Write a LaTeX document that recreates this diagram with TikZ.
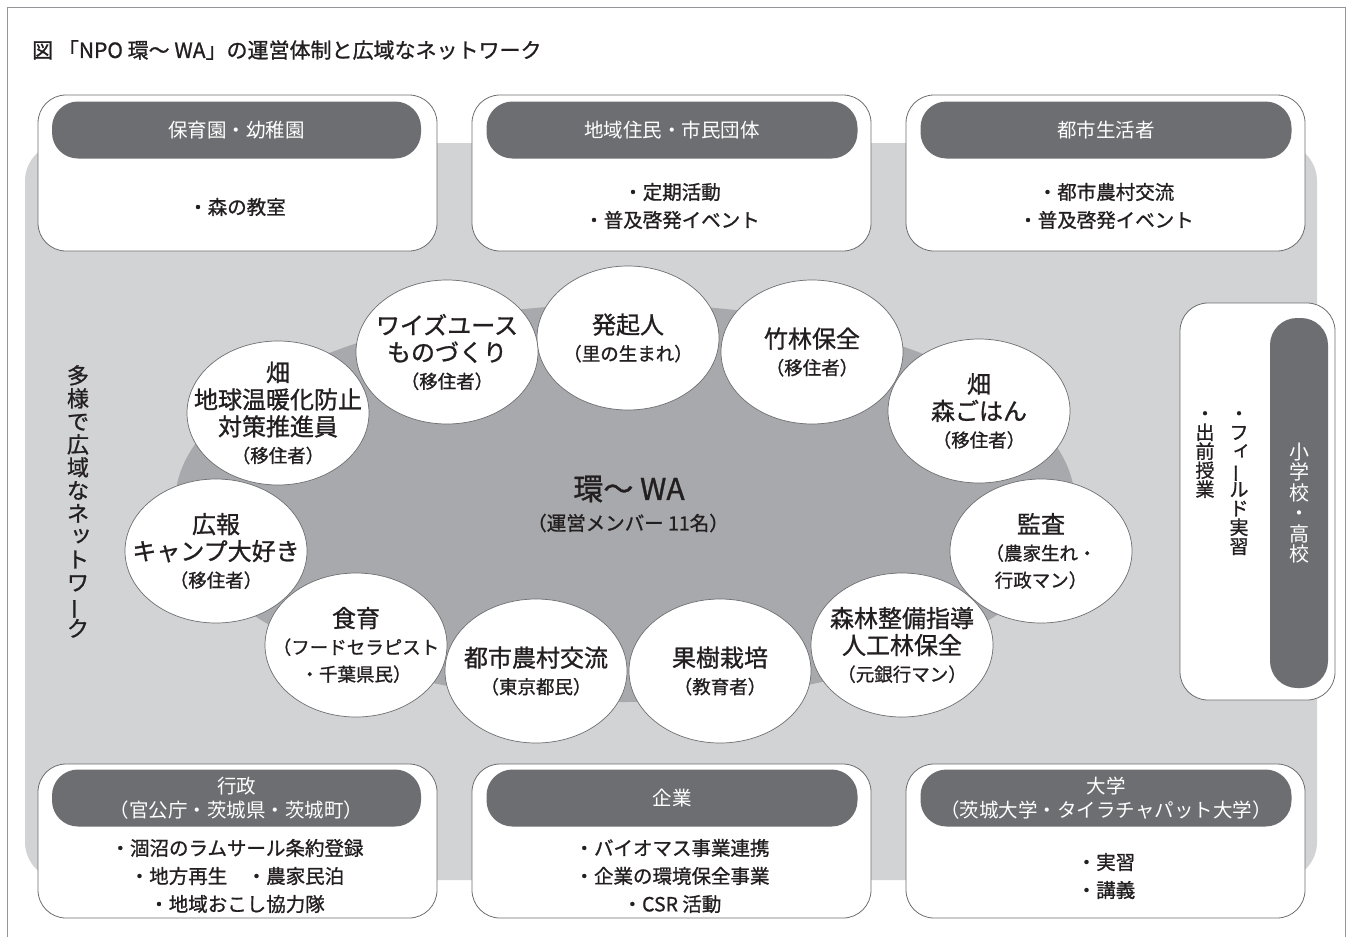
\documentclass[tikz,border=0pt]{standalone}
\usepackage{fontspec}
\setmainfont{Noto Sans CJK JP}
\newfontfamily\jpm{Noto Sans CJK JP}[RawFeature={embolden=1.0}]
\usepackage{graphicx}
\usetikzlibrary{shapes.geometric}
\definecolor{bgc}{HTML}{D1D3D4}
\definecolor{elc}{HTML}{A7A9AC}
\definecolor{hdc}{HTML}{6D6E71}
\definecolor{bdc}{HTML}{6D6E71}
\definecolor{frc}{HTML}{939598}
\definecolor{txt}{HTML}{231F20}
\newcommand\vcho{\makebox[1em]{\rotatebox[origin=c]{90}{ー}}}
\newcommand\vsm[1]{\makebox[1em][l]{\raisebox{0.14em}{\kern0.14em #1}}}
\newcommand\sbf{\fontsize{18.5}{27}\selectfont}
\newcommand\vset{\lineskiplimit -50pt\relax}
\tikzset{
  box/.style={draw=bdc, line width=0.8pt, fill=white, rounded corners=28pt, inner sep=0pt},
  hdr/.style={fill=hdc, rounded corners=26pt, text=white, font=\fontsize{19.5}{24}\selectfont, align=center, inner sep=0pt},
  item/.style={font=\jpm\fontsize{19.5}{28}\selectfont, align=center, text=txt, inner sep=0pt},
  circ/.style={ellipse, draw=bdc, line width=0.7pt, fill=white, minimum width=182pt, minimum height=144pt, inner sep=0pt},
  ctext/.style={align=center, font=\jpm\fontsize{24}{27}\selectfont, text=txt, inner sep=0pt},
  vcol/.style={align=center, inner sep=0pt, text=txt}
}
\begin{document}
\begin{tikzpicture}[x=1pt,y=-1pt]
\useasboundingbox (0,0) rectangle (1351,937);
% frame
\draw[frc, line width=1pt] (7,937) -- (7,7) -- (1345,7) -- (1345,937);
% title
\node[anchor=west, font=\jpm\fontsize{21}{24}\selectfont, text=txt, inner sep=0pt] (title) at (32,50) {図 「NPO 環～ WA」の運営体制と広域なネットワーク};
% gray background
\node[fill=bgc, rounded corners=38pt, minimum width=1292pt, minimum height=737pt, inner sep=0pt] (bg) at (671,511.5) {};
% inner ellipse
\node[ellipse, fill=elc, minimum width=900pt, minimum height=398pt, inner sep=0pt] (wa) at (625,503) {};
\node[font=\jpm\fontsize{30}{34}\selectfont, text=txt, inner sep=0pt] (watitle) at (629,489) {環～ WA};
\node[font=\jpm\fontsize{19.5}{22}\selectfont, text=txt, inner sep=0pt] (wasub) at (628,523) {（運営メンバー 11名）};
% left vertical text
\node[vcol, anchor=north, font=\jpm\fontsize{22}{23}\selectfont\vset] (vleft) at (78,365)
  {多\\様\\で\\広\\域\\な\\ネ\\\vsm{ッ}\\ト\\ワ\\\vcho\\ク};
% circles
\node[circ] (hokki) at (628,338) {};
\node[ctext] (hokkit) at (hokki) {発起人\\{\sbf （里の生まれ）}};
\node[circ] (wise) at (447,352) {};
\node[ctext] (wiset) at (wise) {ワイズユース\\ものづくり\\{\sbf （移住者）}};
\node[circ] (chiku) at (812,352) {};
\node[ctext] (chikut) at (chiku) {竹林保全\\{\sbf （移住者）}};
\node[circ] (hata1) at (278,413) {};
\node[ctext] (hata1t) at (hata1) {畑\\地球温暖化防止\\対策推進員\\{\sbf （移住者）}};
\node[circ] (hata2) at (979,411) {};
\node[ctext] (hata2t) at (hata2) {畑\\森ごはん\\{\sbf （移住者）}};
\node[circ] (koho) at (216,551) {};
\node[ctext] (kohot) at (koho) {広報\\キャンプ大好き\\{\sbf （移住者）}};
\node[circ] (kansa) at (1041,551) {};
\node[ctext] (kansat) at (kansa) {監査\\{\sbf （農家生れ・}\\{\sbf 行政マン）}};
\node[circ] (shoku) at (356,645) {};
\node[ctext] (shokut) at (shoku) {食育\\{\sbf （フードセラピスト}\\{\sbf ・千葉県民）}};
\node[circ] (shinrin) at (902,645) {};
\node[ctext] (shinrint) at (shinrin) {森林整備指導\\人工林保全\\{\sbf （元銀行マン）}};
\node[circ] (toshi) at (536,671) {};
\node[ctext] (toshit) at (toshi) {都市農村交流\\{\sbf （東京都民）}};
\node[circ] (kaju) at (720,671) {};
\node[ctext] (kajut) at (kaju) {果樹栽培\\{\sbf （教育者）}};
% top boxes
\node[box, minimum width=399pt, minimum height=156pt] (b1) at (237.5,173) {};
\node[hdr, minimum width=369pt, minimum height=57pt] (h1) at (236.5,130) {保育園・幼稚園};
\node[item] (b1t) at (237,207) {・森の教室};
\node[box, minimum width=399pt, minimum height=156pt] (b2) at (671.5,173) {};
\node[hdr, minimum width=371pt, minimum height=57pt] (h2) at (672,130) {地域住民・市民団体};
\node[item] (b2t) at (672,206) {・定期活動\\・普及啓発イベント};
\node[box, minimum width=399pt, minimum height=156pt] (b3) at (1105.5,173) {};
\node[hdr, minimum width=371pt, minimum height=57pt] (h3) at (1106,130) {都市生活者};
\node[item] (b3t) at (1106,206) {・都市農村交流\\・普及啓発イベント};
% bottom boxes
\node[box, minimum width=399pt, minimum height=154pt] (b4) at (237.5,841) {};
\node[hdr, minimum width=369pt, minimum height=57pt] (h4) at (236.5,798) {行政\\（官公庁・茨城県・茨城町）};
\node[item] (b4t) at (237,876) {・涸沼のラムサール条約登録\\・地方再生　・農家民泊\\・地域おこし協力隊};
\node[box, minimum width=399pt, minimum height=154pt] (b5) at (671.5,841) {};
\node[hdr, minimum width=371pt, minimum height=57pt] (h5) at (672,798) {企業};
\node[item] (b5t) at (672,876) {・バイオマス事業連携\\・企業の環境保全事業\\・CSR 活動};
\node[box, minimum width=399pt, minimum height=154pt] (b6) at (1105.5,841) {};
\node[hdr, minimum width=371pt, minimum height=57pt] (h6) at (1106,798) {大学\\（茨城大学・タイラチャパット大学）};
\node[item] (b6t) at (1106,876) {・実習\\・講義};
% right vertical box
\node[box, minimum width=155pt, minimum height=397pt] (b7) at (1257.5,501.5) {};
\node[hdr, rounded corners=27pt, minimum width=58pt, minimum height=370pt] (h7) at (1299,503) {};
\node[vcol, text=white, font=\fontsize{20}{20.5}\selectfont\vset] (h7t) at (h7) {小\\学\\校\\・\\高\\校};
\node[vcol, anchor=north, font=\jpm\fontsize{19}{19}\selectfont\vset] (b7a) at (1239,411) {・\\フ\\\vsm{ィ}\\\vcho\\ル\\ド\\実\\習};
\node[vcol, anchor=north, font=\jpm\fontsize{19}{19}\selectfont\vset] (b7b) at (1205,411) {・\\出\\前\\授\\業};
\end{tikzpicture}
\end{document}
